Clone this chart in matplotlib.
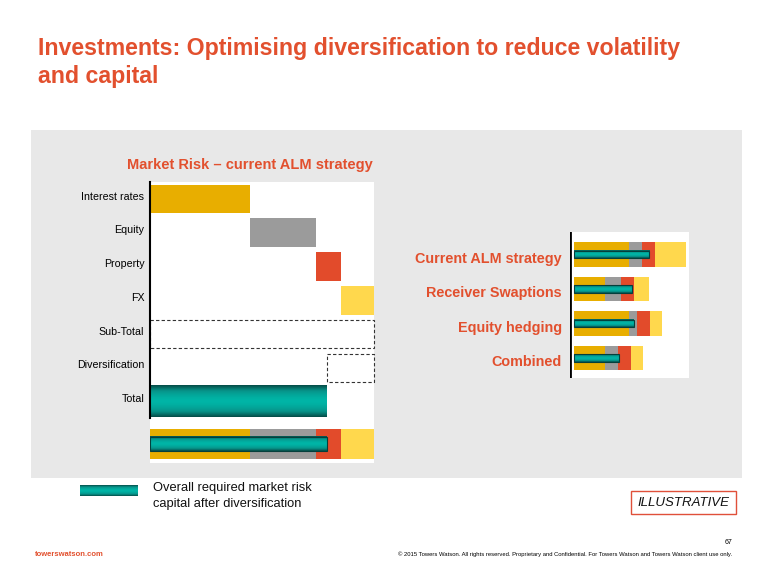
import numpy as np
import matplotlib
matplotlib.use("Agg")
import matplotlib.pyplot as plt
from matplotlib.patches import Rectangle
from matplotlib.colors import LinearSegmentedColormap

plt.rcParams['font.family'] = ['Liberation Sans', 'DejaVu Sans']

# left chart: waterfall of market risk components
risk_names = ["Interest rates", "Equity", "Property", "FX"]
risk_values = [100, 66, 25, 33]
total_after_div = 177
row_labels = ["Interest rates", "Equity", "Property", "FX",
              "Sub-Total", "Diversification", "Total"]

# right chart: strategies
strategies = ["Current ALM strategy", "Receiver Swaptions",
              "Equity hedging", "Combined"]
strat_ir = [55, 31, 55, 31]
strat_eq = [13, 16, 8, 13]
strat_prop = [13, 13, 13, 13]
strat_fx = [31, 15, 12, 12]
strat_total = [75, 58, 60, 45]

seg_colors = ["#E8AE00", "#9B9B9B", "#E24B2B", "#FFD84D"]
red = "#E2502E"
teal_cmap = LinearSegmentedColormap.from_list("teal", ["#00B5A7", "#079389", "#054C48"])
grad = (np.abs(np.linspace(-1, 1, 60)) ** 1.6)[:, None]


def teal_bar(ax, y, left, width, h, edge=True):
    ax.imshow(grad, cmap=teal_cmap, vmin=0, vmax=1, aspect='auto',
              extent=(left, left + width, y + h / 2, y - h / 2),
              interpolation='bilinear', zorder=4)
    if edge:
        ax.add_patch(Rectangle((left, y - h / 2), width, h, fill=False,
                               edgecolor="#053F3C", lw=0.8, zorder=5))


W, H = 766, 583
fig = plt.figure(figsize=(W / 100, H / 100), dpi=100)
fig.patch.set_facecolor("white")

# gray panel (behind everything)
bg = fig.add_axes([31 / W, 1 - 478 / H, 711 / W, 348 / H], zorder=-5)
bg.set_facecolor("#E8E8E8")
bg.set_xticks([])
bg.set_yticks([])
for s in bg.spines.values():
    s.set_visible(False)

fig.text(38 / W, 1 - 37 / H,
         "Investments: Optimising diversification to reduce volatility\nand capital",
         color=red, fontsize=16.7, fontweight="bold", va="top", ha="left",
         linespacing=1.3)

# ---- left chart
ax = fig.add_axes([150 / W, 1 - 463 / H, 224 / W, 281 / H])
ax.set_facecolor("white")
lefts = np.concatenate([[0], np.cumsum(risk_values)[:-1]])
subtotal = sum(risk_values)
for i, (l, v) in enumerate(zip(lefts, risk_values)):
    ax.barh(i, v, left=l, height=0.85, color=seg_colors[i], zorder=3)
ax.add_patch(Rectangle((0, 4 - 0.42), subtotal, 0.84, fill=False, ls=(0, (3, 2)),
                       edgecolor="#333333", lw=0.8, zorder=3, clip_on=False))
ax.add_patch(Rectangle((total_after_div, 5 - 0.42), subtotal - total_after_div, 0.84,
                       fill=False, ls=(0, (3, 2)), edgecolor="#333333", lw=0.8,
                       zorder=3, clip_on=False))
teal_bar(ax, 6, 0, total_after_div, 0.94, edge=False)

yb = 7.26
for i, (l, v) in enumerate(zip(lefts, risk_values)):
    ax.barh(yb, v, left=l, height=0.88, color=seg_colors[i], zorder=3)
teal_bar(ax, yb, 0, total_after_div, 0.42)

ax.plot([0, 0], [-0.5, 6.5], color="black", lw=1.5, zorder=6, clip_on=False)
ax.set_xlim(0, subtotal)
ax.set_ylim(7.82, -0.5)
ax.set_yticks(np.arange(len(row_labels)) - 0.1)
ax.set_yticklabels(row_labels, fontsize=7.7)
ax.tick_params(axis="y", length=0, pad=4)
ax.set_xticks([])
for s in ax.spines.values():
    s.set_visible(False)
fig.text(250 / W, 1 - 165 / H, "Market Risk \u2013 current ALM strategy",
         color=red, fontsize=10.5, fontweight="bold", ha="center", va="center")

# ---- right chart
ax2 = fig.add_axes([570 / W, 1 - 378 / H, 119 / W, 146 / H])
ax2.set_facecolor("white")
y2 = np.arange(len(strategies))
stack = [strat_ir, strat_eq, strat_prop, strat_fx]
left2 = np.zeros(len(strategies))
for k, vals in enumerate(stack):
    ax2.barh(y2, vals, left=left2, height=0.7, color=seg_colors[k], zorder=3)
    left2 = left2 + np.array(vals)
for i, t in enumerate(strat_total):
    teal_bar(ax2, i, 0, t, 0.22)
ax2.set_xlim(-4, 115)
ax2.set_ylim(3.58, -0.65)
ax2.set_yticks(y2 + 0.08)
ax2.set_yticklabels(strategies, fontsize=10.4, fontweight="bold", color=red)
ax2.tick_params(axis="y", length=0, pad=6)
ax2.set_xticks([])
for s in ax2.spines.values():
    s.set_visible(False)
ax2.axvline(-4, color="black", lw=2, zorder=6)

# ---- legend
lax = fig.add_axes([80 / W, 1 - 496 / H, 58 / W, 11 / H])
lax.imshow(grad, cmap=teal_cmap, vmin=0, vmax=1, aspect='auto',
           interpolation='bilinear')
lax.axis("off")
fig.text(153 / W, 1 - 496 / H,
         "Overall required market risk\ncapital after diversification",
         fontsize=9.3, va="center", ha="left", color="#111111", linespacing=1.35)

# illustrative box
fig.text(683 / W, 1 - 502.5 / H, "ILLUSTRATIVE", fontsize=9.5, style="italic",
         ha="center", va="center", color="#111111")
fig.patches.append(Rectangle((631 / W, 1 - 514 / H), 105 / W, 23 / H,
                             transform=fig.transFigure, facecolor="none",
                             edgecolor="#E0503A", lw=1))

# footer
fig.text(35 / W, 1 - 554 / H, "towerswatson.com", fontsize=5.5, color=red,
         fontweight="bold", va="center")
fig.text(732 / W, 1 - 543 / H, "67", fontsize=5, va="center", ha="right")
fig.text(732 / W, 1 - 554 / H,
         "\u00a9 2015 Towers Watson. All rights reserved. Proprietary and Confidential. "
         "For Towers Watson and Towers Watson client use only.",
         fontsize=4.2, va="center", ha="right")

fig.savefig("out.png", dpi=100)
